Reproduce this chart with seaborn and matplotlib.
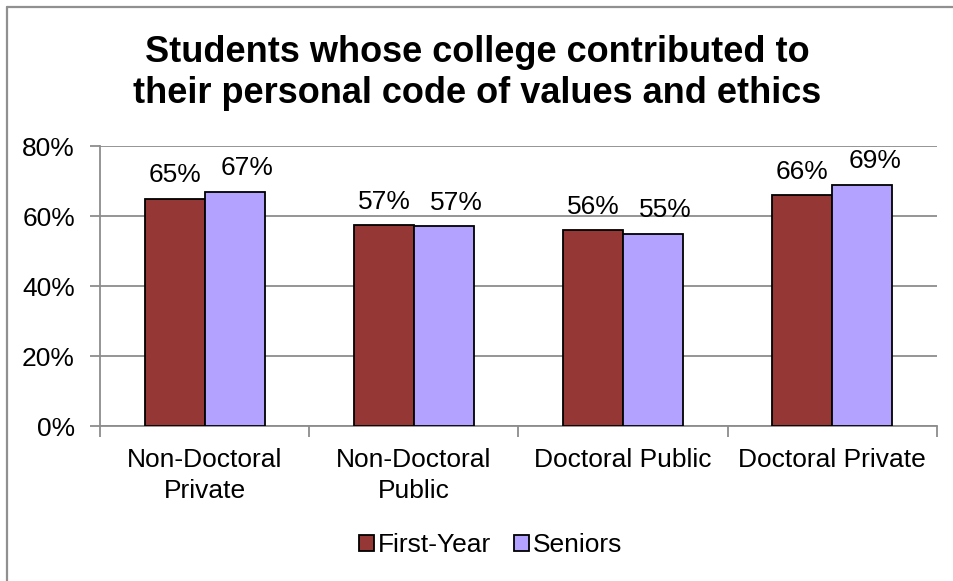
import matplotlib
matplotlib.use("Agg")
import matplotlib.pyplot as plt
import seaborn as sns
import pandas as pd
from matplotlib.patches import Patch
from matplotlib.lines import Line2D
from matplotlib.font_manager import FontProperties

categories = ["Non-Doctoral\nPrivate", "Non-Doctoral\nPublic", "Doctoral Public", "Doctoral Private"]
groups = ["First-Year", "Seniors"]
first_year = [65.0, 57.3, 56.0, 66.0]
seniors = [67.0, 57.1, 55.0, 69.0]
colors = ["#953735", "#B3A2FF"]
yticks = [0, 20, 40, 60, 80]
title = "Students whose college contributed to\ntheir personal code of values and ethics"

df = pd.DataFrame({
    "Category": categories * 2,
    "Group": [groups[0]] * 4 + [groups[1]] * 4,
    "Value": first_year + seniors,
})

sns.set_theme(style="white")
FAM = ["Liberation Sans", "DejaVu Sans"]
plt.rcParams["font.family"] = FAM
plt.rcParams["text.color"] = "black"

W, H = 954, 581
FS = 19
TFS = 26
GRAY = "#8c8c8c"

fig = plt.figure(figsize=(W / 100, H / 100), dpi=100)
renderer = fig.canvas.get_renderer()


def linespacing_for(px, size, weight="normal"):
    # baseline-to-baseline distance = descent + ascent * linespacing
    fp = FontProperties(family=FAM, size=size, weight=weight)
    _, h, d = renderer.get_text_width_height_descent("lp", fp, ismath=False)
    return (px - d) / (h - d)


ax = fig.add_axes([100 / W, 1 - 426 / H, (937 - 100) / W, (426 - 146) / H])

sns.barplot(data=df, x="Category", y="Value", hue="Group", order=categories,
            hue_order=groups, palette=colors, width=0.573, edgecolor="black",
            linewidth=1.3, saturation=1, ax=ax, legend=False, zorder=3)

label_dx = [0, 9]  # seniors labels sit slightly right of their bars
for cont, dx in zip(ax.containers, label_dx):
    anns = ax.bar_label(cont, labels=[f"{round(b.get_height())}%" for b in cont],
                        padding=8, fontsize=FS, color="black")
    for a in anns:
        a.xyann = (dx, 8)

ax.set_ylim(0, 80)
ax.set_xlim(-0.5, 3.5)
ax.set_yticks(yticks)
ax.set_yticklabels([f"{t}%" for t in yticks], fontsize=FS)
ax.yaxis.grid(True, color=GRAY, linewidth=1.3, zorder=0)
ax.set_axisbelow(True)
ax.tick_params(axis="y", which="major", length=7, width=1.3, color=GRAY,
               direction="out", left=True, pad=11, labelcolor="black")

ax.set_xticks([0, 1, 2, 3])
ax.set_xticklabels(categories, fontsize=FS, linespacing=linespacing_for(31, FS))
ax.tick_params(axis="x", which="major", length=0, pad=15.8, labelcolor="black")
ax.set_xticks([-0.5, 0.5, 1.5, 2.5, 3.5], minor=True)
ax.tick_params(axis="x", which="minor", length=8, width=1.3, color=GRAY,
               direction="out", bottom=True)

ax.set_xlabel("")
ax.set_ylabel("")
for s in ["top", "right"]:
    ax.spines[s].set_visible(False)
for s in ["left", "bottom"]:
    ax.spines[s].set_color(GRAY)
    ax.spines[s].set_linewidth(1.3)

# va="baseline" on multi-line text anchors the last line's baseline
fig.text(0.5, 1 - 103 / H, title, ha="center", va="baseline", fontsize=TFS,
         fontweight="bold", color="black",
         linespacing=linespacing_for(41, TFS, "bold"))

handles = [Patch(facecolor=c, edgecolor="black", linewidth=1.3) for c in colors]
fig.legend(handles, groups, loc="center", bbox_to_anchor=(490.5 / W, 1 - 545 / H),
           ncol=2, frameon=False, fontsize=FS, handlelength=0.57,
           handleheight=0.57, handletextpad=0.15, columnspacing=0.85)

# chart frame: top and left edges visible, right and bottom run off the image
fig.add_artist(Line2D([7 / W, 1.0], [1 - 7 / H, 1 - 7 / H], transform=fig.transFigure,
                      color="#909090", linewidth=1.6))
fig.add_artist(Line2D([7 / W, 7 / W], [1 - 7 / H, 0.0], transform=fig.transFigure,
                      color="#909090", linewidth=1.6))

fig.savefig("out.png", dpi=100, facecolor="white")
